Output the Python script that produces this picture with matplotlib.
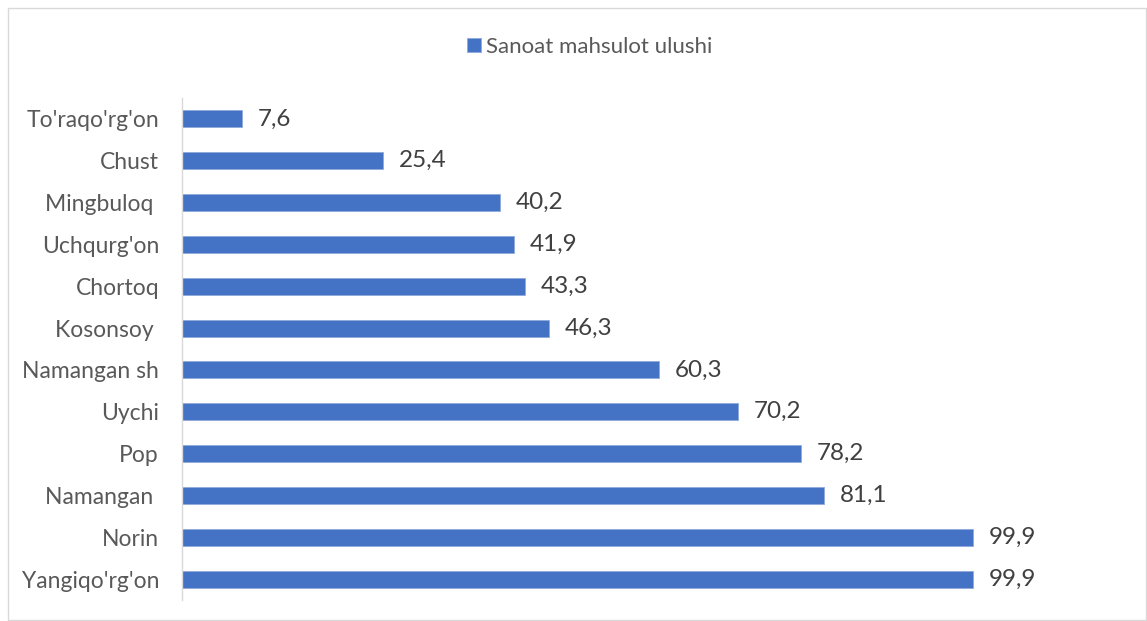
import matplotlib
matplotlib.use('Agg')
import matplotlib.pyplot as plt
from matplotlib.patches import Rectangle

plt.rcParams['font.family'] = ['Lato', 'DejaVu Sans']

# tumanlar (top to bottom as in the chart)
districts = ["To'raqo'rg'on", "Chust", "Mingbuloq ", "Uchqurg'on", "Chortoq",
             "Kosonsoy ", "Namangan sh", "Uychi", "Pop", "Namangan ",
             "Norin", "Yangiqo'rg'on"]
share = [7.6, 25.4, 40.2, 41.9, 43.3, 46.3, 60.3, 70.2, 78.2, 81.1, 99.9, 99.9]
labels = ["7,6", "25,4", "40,2", "41,9", "43,3", "46,3", "60,3", "70,2",
          "78,2", "81,1", "99,9", "99,9"]
legend_name = "Sanoat mahsulot ulushi"

W, H = 1147, 621
fig = plt.figure(figsize=(W / 100, H / 100), dpi=100)
ax = fig.add_axes([182 / W, 1 - 600 / H, (1132 - 182) / W, (600 - 98) / H])

ypos = list(range(len(districts)))[::-1]
bars = ax.barh(ypos, share, height=0.41, color='#4472C4', edgecolor='#8FAADC',
               linewidth=0.6, label=legend_name)

for y, v, t in zip(ypos, share, labels):
    ax.text(v + 2.0, y, t, va='center', ha='left', fontsize=17.5, color='#404040')

ax.set_xlim(0, 120)
ax.set_ylim(-0.5, len(districts) - 0.5)
ax.set_yticks(ypos)
ax.set_yticklabels(districts, fontsize=16.5, color='#595959')
ax.tick_params(axis='y', length=0, pad=16.5)
ax.set_xticks([])
for s in ['top', 'right', 'bottom']:
    ax.spines[s].set_visible(False)
ax.spines['left'].set_color('#D9D9D9')
ax.spines['left'].set_linewidth(1.0)

fig.legend(handles=[bars], labels=[legend_name], loc='center',
           bbox_to_anchor=(590 / W, 1 - 47 / H), frameon=False, fontsize=16,
           labelcolor='#595959', handlelength=0.6, handleheight=0.6,
           handletextpad=0.25)

fig.patches.append(Rectangle((8 / W, 1 / H), (1146 - 8) / W, (612) / H,
                             transform=fig.transFigure, fill=False,
                             edgecolor='#D9D9D9', linewidth=1.0))

fig.savefig('out.png', dpi=100, facecolor='white')
